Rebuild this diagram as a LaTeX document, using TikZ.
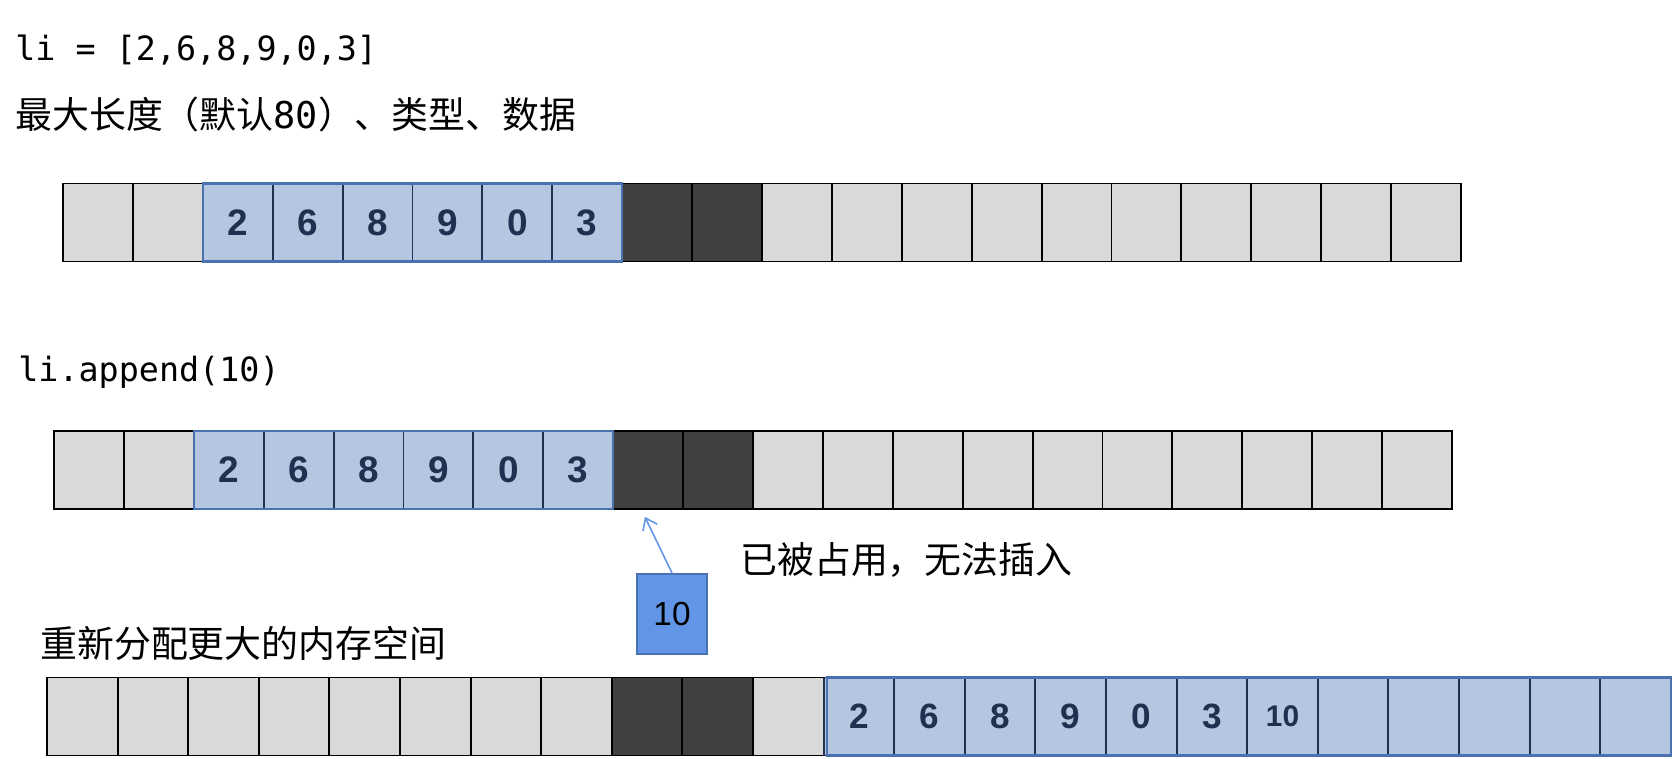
\documentclass[tikz,border=0pt]{standalone}
\usepackage{fontspec}
\setmainfont{Liberation Sans}
\setmonofont{DejaVu Sans Mono}
\newfontfamily\cjk{Noto Sans CJK SC}
\usepackage{tikz}
\usepackage{xcolor}
\usetikzlibrary{positioning,arrows.meta}

\definecolor{cellgray}{RGB}{217,217,217}
\definecolor{busygray}{RGB}{64,64,64}
\definecolor{usedblue}{RGB}{180,198,224}
\definecolor{groupblue}{RGB}{74,114,176}
\definecolor{navy}{RGB}{31,48,80}
\definecolor{newblue}{RGB}{98,149,230}
\definecolor{arrowblue}{RGB}{100,150,232}

\tikzset{
    freecell/.style={draw=black, line width=1.1pt, fill=cellgray,
        minimum width=1.398cm, minimum height=1.56cm, inner sep=0pt, outer sep=0pt},
    busycell/.style={freecell, fill=busygray},
    usedcell/.style={freecell, fill=usedblue, draw=navy, text=navy,
        font=\bfseries\fontsize{21}{21}\selectfont},
    groupline/.style={draw=groupblue, line width=1.2pt},
    label/.style={inner sep=0pt, font=\fontsize{21}{21}\selectfont\cjk},
    code/.style={inner sep=0pt, anchor=base west, font=\ttfamily\fontsize{19}{19}\selectfont},
}

\begin{document}
\begin{tikzpicture}[x=0.02cm, y=-0.02cm, >={Straight Barb[length=6pt,width=9pt]}]
            \useasboundingbox (0,0) rectangle (1673,758);

            % texts
            \node[code] (list) at (15,60) {li = [2,6,8,9,0,3]};
            \node[label, anchor=west] (info) at (15,114) {最大长度（默认{\ttfamily 80}）、类型、数据};
            \node[code] (append) at (18,381) {li.append(10)};
            \node[label, anchor=west] (taken) at (740,560) {已被占用，无法插入};
            \node[label, anchor=west] (realloc) at (40,643) {重新分配更大的内存空间};

            % first row
            \foreach \i in {0,1,10,11,...,19}
                \node[freecell] (a\i) at ({63+69.9*(\i+0.5)},222.5) {};
            \foreach \i in {8,9}
                \node[busycell] (a\i) at ({63+69.9*(\i+0.5)},222.5) {};
            \foreach \v [count=\i from 2] in {2,6,8,9,0,3}
                \node[usedcell] (a\i) at ({63+69.9*(\i+0.5)},222.5) {\v};
            \draw[groupline] (a2.north west) rectangle (a7.south east);

            % second row
            \foreach \i in {0,1,10,11,...,19}
                \node[freecell] (b\i) at ({54+69.9*(\i+0.5)},470) {};
            \foreach \i in {8,9}
                \node[busycell] (b\i) at ({54+69.9*(\i+0.5)},470) {};
            \foreach \v [count=\i from 2] in {2,6,8,9,0,3}
                \node[usedcell] (b\i) at ({54+69.9*(\i+0.5)},470) {\v};
            \draw[groupline] (b2.north west) rectangle (b7.south east);

            % new element
            \node[draw=groupblue, line width=1.1pt, fill=newblue, minimum width=1.4cm,
                minimum height=1.6cm, font=\fontsize{19}{19}\selectfont] (ten) at (672,614) {10};
            \draw[->, arrowblue, line width=0.9pt, shorten >=5pt] (ten.north) -- ([xshift=-4pt]b8.south);

            % third row
            \foreach \i in {0,...,7,10}
                \node[freecell, minimum width=1.412cm] (c\i) at ({47+70.6*(\i+0.5)},716.5) {};
            \foreach \i in {8,9}
                \node[busycell, minimum width=1.412cm] (c\i) at ({47+70.6*(\i+0.5)},716.5) {};
            \foreach \v [count=\i from 11] in {2,6,8,9,0,3}
                \node[usedcell, minimum width=1.412cm, font=\bfseries\fontsize{20}{20}\selectfont] (c\i) at ({47+70.6*(\i+0.5)},716.5) {\v};
            \node[usedcell, minimum width=1.412cm, font=\bfseries\fontsize{17}{17}\selectfont] (c17) at ({47+70.6*17.5},716.5) {10};
            \foreach \i in {18,...,22}
                \node[usedcell, minimum width=1.412cm] (c\i) at ({47+70.6*(\i+0.5)},716.5) {};
            \draw[groupline] ([xshift=2pt]c11.north west) rectangle (c22.south east);
        \end{tikzpicture}
\end{document}
